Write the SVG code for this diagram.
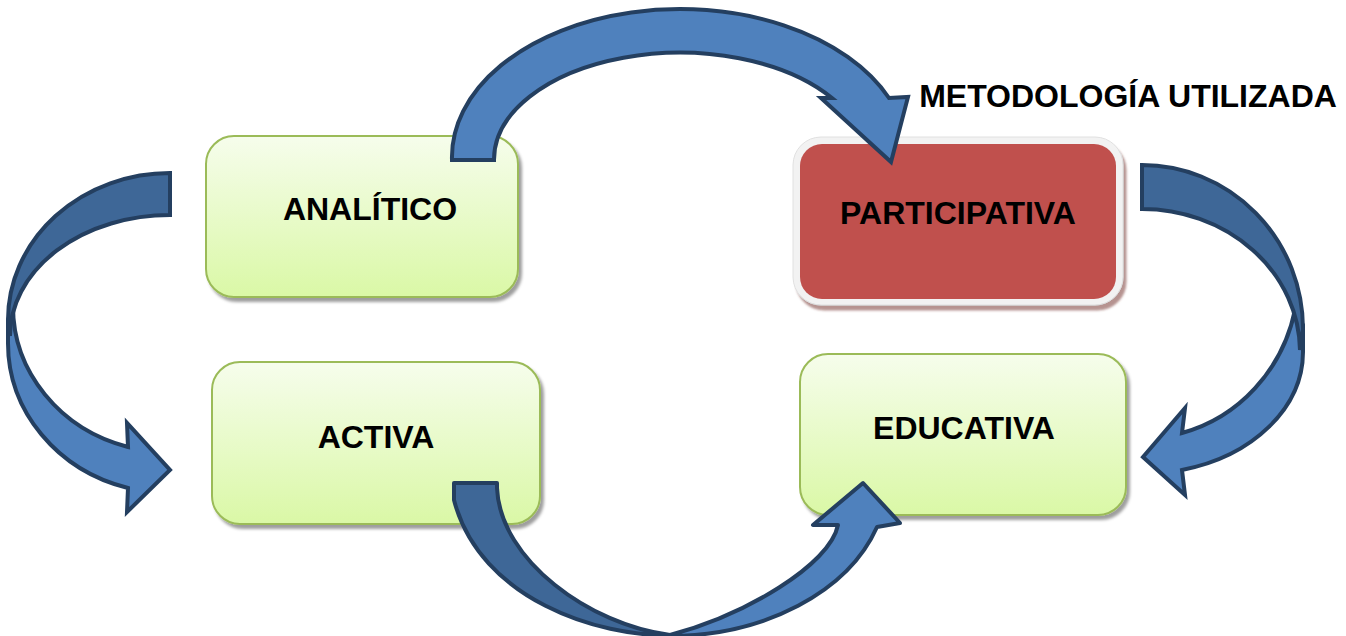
<svg xmlns="http://www.w3.org/2000/svg" width="1346" height="636" viewBox="0 0 1346 636">
  <defs>
    <linearGradient id="greenGrad" x1="0" y1="0" x2="0" y2="1">
      <stop offset="0" stop-color="#f6fdec"/>
      <stop offset="1" stop-color="#daf8a6"/>
    </linearGradient>
    <filter id="shadow" x="-10%" y="-10%" width="130%" height="130%">
      <feDropShadow dx="3" dy="4" stdDeviation="1.5" flood-color="#000" flood-opacity="0.38"/>
    </filter>
    <filter id="redShadow" x="-10%" y="-10%" width="130%" height="130%">
      <feDropShadow dx="3" dy="5" stdDeviation="1.2" flood-color="#7a3b39" flood-opacity="0.55"/>
    </filter>
  </defs>
  <style>
    .box { fill: url(#greenGrad); stroke: #9bbb59; stroke-width: 2; filter: url(#shadow); }
    .lbl { font-family: "Liberation Sans", Arial, sans-serif; font-weight: bold; font-size: 32px; fill: #000; text-anchor: middle; }
    .arrow { stroke: #243f60; stroke-width: 4; stroke-linejoin: miter; stroke-miterlimit: 8; }
    .light { fill: #4f81bd; }
    .dark { fill: #3e6797; }
    .soft { stroke-linejoin: round; }
  </style>
  <rect width="1346" height="636" fill="#ffffff"/>

  <g id="node-analitico">
    <rect class="box" x="206" y="136" width="312" height="161" rx="28"/>
    <text class="lbl" x="370" y="220">ANALÍTICO</text>
  </g>

  <g id="node-activa">
    <rect class="box" x="212" y="362" width="328" height="162" rx="28"/>
    <text class="lbl" x="376" y="448">ACTIVA</text>
  </g>

  <g id="node-educativa">
    <rect class="box" x="800" y="354" width="326" height="161" rx="28"/>
    <text class="lbl" x="964" y="439">EDUCATIVA</text>
  </g>

  <g id="node-participativa">
    <rect x="793" y="137" width="330" height="168" rx="28" fill="#f2f2f2" stroke="#e0e0e0" stroke-width="1" filter="url(#redShadow)"/>
    <rect x="800" y="144" width="316" height="155" rx="22" fill="#c0504d"/>
    <text class="lbl" x="958" y="224">PARTICIPATIVA</text>
  </g>

  <g id="label-metodologia">
    <text class="lbl" x="1128" y="107">METODOLOGÍA UTILIZADA</text>
  </g>

  <g id="connectors" class="arrow">
    <!-- top: ANALITICO -> PARTICIPATIVA -->
    <path class="light" d="M 452,160 A 228 148 0 0 1 889,98 L 908,97 L 891,162 L 821,98 L 832,98 A 186 107 0 0 0 494,160 Z"/>

    <!-- left: ANALITICO -> ACTIVA -->
    <path class="light" d="M 8,320 L 8,343 A 162 150 0 0 0 128,488 L 127,512 L 170,470 L 127,423 L 128,447 A 157 146 0 0 1 13,306 Z"/>
    <path class="dark" d="M 170,173 A 162 147 0 0 0 8,320 L 10,336 A 160 121 0 0 1 170,215 Z"/>

    <!-- right: PARTICIPATIVA -> EDUCATIVA -->
    <path class="light" d="M 1303,325 L 1303,352 A 161 122 0 0 1 1182,470 L 1185,495 L 1143,457 L 1185,408 L 1182,433 A 156 163 0 0 0 1295,310 Z"/>
    <path class="dark" d="M 1142,165 A 161 164 0 0 1 1303,329 L 1300,350 A 158 143 0 0 0 1142,209 Z"/>

    <!-- bottom: ACTIVA -> EDUCATIVA -->
    <path class="light soft" d="M 670,636 A 218 157 0 0 0 877,527 L 900,523 L 863,483 L 813,525 L 838,525 C 830,565 745,615 670,635 Z"/>
    <path class="dark soft" d="M 454,483 L 497,483 L 497,488 C 500,560 590,625 670,635 C 600,637 480,600 454,500 Z"/>
  </g>
</svg>
